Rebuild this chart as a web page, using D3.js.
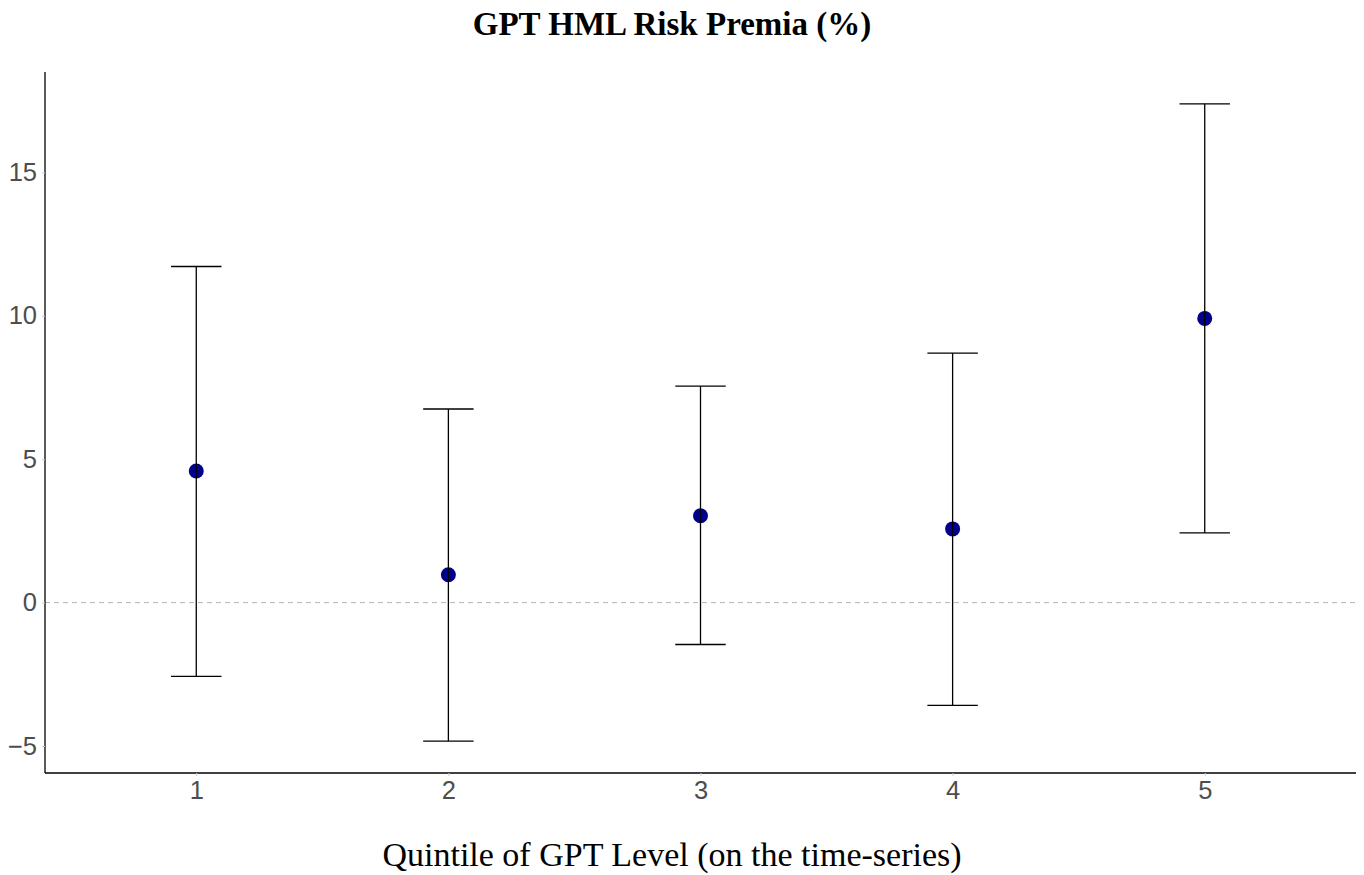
<!DOCTYPE html>
<html><head><meta charset="utf-8">
<script src="https://cdn.jsdelivr.net/npm/d3@7"></script>
<style>body{margin:0;background:#fff;} svg{display:block;}</style>
</head><body>
<svg id="chart" width="1364" height="875"></svg>
<script>
const quintiles = ["1","2","3","4","5"];
const estimate = [4.59, 0.97, 3.03, 2.57, 9.91];
const upper = [11.72, 6.75, 7.55, 8.70, 17.39];
const lower = [-2.57, -4.83, -1.46, -3.58, 2.43];
const yTicks = [-5, 0, 5, 10, 15];

const data = quintiles.map((q,i)=>({q, est: estimate[i], hi: upper[i], lo: lower[i]}));
const svg = d3.select("#chart");
const m = {left:45, right:1356, top:72, bottom:773};

const x = d3.scalePoint().domain(quintiles).range([m.left, m.right]).padding(0.6);
const ymin = d3.min(lower), ymax = d3.max(upper), ex = (ymax-ymin)*0.05;
const y = d3.scaleLinear().domain([ymin-ex, ymax+ex]).range([m.bottom, m.top]);

// zero line
svg.append("line").attr("x1",m.left).attr("x2",m.right).attr("y1",y(0)).attr("y2",y(0))
  .attr("stroke","#b3b3b3").attr("stroke-width",1).attr("stroke-dasharray","5,4");

// points
svg.selectAll("circle.pt").data(data).enter().append("circle")
  .attr("cx",d=>x(d.q)).attr("cy",d=>y(d.est)).attr("r",7.5).attr("fill","#00008b");

// error bars
const bw = x.step()*0.2;
const g = svg.selectAll("g.eb").data(data).enter().append("g").attr("stroke","#000").attr("stroke-width",1.3);
g.append("line").attr("x1",d=>x(d.q)).attr("x2",d=>x(d.q)).attr("y1",d=>y(d.hi)).attr("y2",d=>y(d.lo));
g.append("line").attr("x1",d=>x(d.q)-bw/2).attr("x2",d=>x(d.q)+bw/2).attr("y1",d=>y(d.hi)).attr("y2",d=>y(d.hi));
g.append("line").attr("x1",d=>x(d.q)-bw/2).attr("x2",d=>x(d.q)+bw/2).attr("y1",d=>y(d.lo)).attr("y2",d=>y(d.lo));

// axes
const yAxis = svg.append("g").attr("transform",`translate(${m.left},0)`)
  .call(d3.axisLeft(y).tickValues(yTicks).tickSize(3).tickPadding(5).tickFormat(d=>d<0?"\u2212"+Math.abs(d):d));
const xAxis = svg.append("g").attr("transform",`translate(0,${m.bottom})`)
  .call(d3.axisBottom(x).tickSize(3).tickPadding(5));
[yAxis,xAxis].forEach(a=>{
  a.select(".domain").attr("stroke","#000").attr("stroke-width",1.3);
  a.selectAll(".tick line").attr("stroke","#cccccc").attr("stroke-width",1);
  a.selectAll(".tick text").attr("fill","#4d4d4d").attr("font-family","Liberation Sans, Arial, sans-serif").attr("font-size",25.5);
});
yAxis.select(".domain").attr("d",`M0,${m.top}V${m.bottom}`);
xAxis.select(".domain").attr("d",`M${m.left},0H${m.right}`);

svg.append("text").attr("x",672).attr("y",35).attr("text-anchor","middle")
  .attr("font-family","Liberation Serif, serif").attr("font-weight","bold").attr("font-size",33)
  .text("GPT HML Risk Premia (%)");
svg.append("text").attr("x",672).attr("y",866).attr("text-anchor","middle")
  .attr("font-family","Liberation Serif, serif").attr("font-size",34)
  .text("Quintile of GPT Level (on the time-series)");
</script>
</body></html>
